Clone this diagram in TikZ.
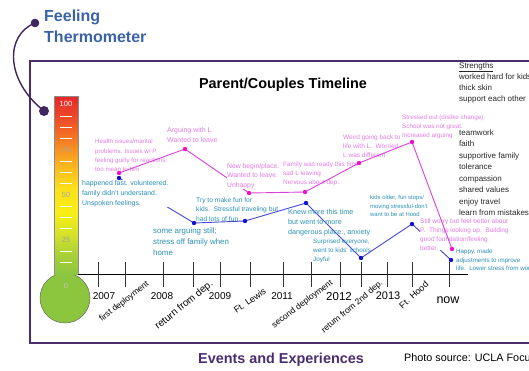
\documentclass[tikz,border=0pt]{standalone}
\usepackage{fontspec}
\setmainfont{Liberation Sans}

\definecolor{framepurple}{HTML}{4B2C6F}
\definecolor{headblue}{HTML}{3A62A7}
\definecolor{pinktext}{HTML}{E27BE2}
\definecolor{pinkline}{HTML}{DA40DA}
\definecolor{pinkdot}{HTML}{F010C8}
\definecolor{bluetext}{HTML}{2A90B5}
\definecolor{blueline}{HTML}{4545D6}
\definecolor{bluedot}{HTML}{1010D0}
\definecolor{tgreen}{HTML}{8CC63F}
\definecolor{tlime}{HTML}{A6CF38}
\definecolor{tygreen}{HTML}{D4E12A}
\definecolor{tyellow}{HTML}{F8EE14}
\definecolor{tyellowb}{HTML}{FCE11A}
\definecolor{torangey}{HTML}{F9B21F}
\definecolor{torange}{HTML}{F58A23}
\definecolor{tredor}{HTML}{EE5028}
\definecolor{tred}{HTML}{E6262A}

% tube colours, green at the bottom up to red
\pgfdeclareverticalshading{thermo}{100bp}{color(0bp)=(tgreen); color(25bp)=(tgreen);
  color(30bp)=(tlime); color(36bp)=(tygreen); color(42bp)=(tyellow); color(49bp)=(tyellowb);
  color(56bp)=(torangey); color(61bp)=(torange); color(68bp)=(tredor); color(75bp)=(tred);
  color(100bp)=(tred)}

\tikzset{
  note/.style={align=left, anchor=north west, inner sep=0pt},
  pinknote/.style={note, text=pinktext},
  bluenote/.style={note, text=bluetext},
  cover/.style={fill=white},
  pinkpath/.style={draw=pinkline, line width=0.9pt},
  bluepath/.style={draw=blueline, line width=0.9pt},
  yearlabel/.style={inner sep=0pt, font=\fontsize{10}{12}\selectfont},
  eventlabel/.style={anchor=east, inner sep=0pt},
}

\begin{document}
\begin{tikzpicture}[x=1pt, y=-1pt]
\useasboundingbox (0,0) rectangle (529,370);
\clip (0,0) rectangle (529,370);

%frame and headings
\draw[framepurple, line width=2pt] (30,61) rectangle (560,343);
\node[note, text=headblue, font=\fontsize{16}{21}\selectfont\bfseries] (feeling) at (44,9.5)
  {Feeling\\Thermometer};
\coordinate (pin) at (35,23);
\coordinate (pinfoot) at (44,111);
\draw[framepurple!85!black, line width=1.4pt] (pin) .. controls (5,35) and (5,80) .. (pinfoot);
\fill[framepurple!85!black] (pin) circle (4.3pt);
\fill[framepurple!85!black] (pinfoot) circle (5pt);
\node[font=\fontsize{14.4}{17}\selectfont\bfseries] (title) at (283,85) {Parent/Couples Timeline};
\node[text=framepurple, font=\fontsize{14.4}{17}\selectfont\bfseries] (events) at (281,360)
  {Events and Experiences};
\node[anchor=west, inner sep=0pt, font=\fontsize{10.8}{13}\selectfont] (source) at (404,358)
  {Photo source: UCLA Focus};

%thermometer
\filldraw[fill=tgreen, draw=black!60, line width=0.5pt] (65,298) circle (25pt);
\shade[shading=thermo] (54,96) rectangle (78,274);
\draw[black!45, line width=0.5pt] (54,274) -- (54,96) -- (78,96) -- (78,274);
\foreach \k in {1,2,3,5,6,7,9,10,11,13,14}
  {\draw[white, line width=1.3pt] (60,{105+11.25*\k}) -- (72,{105+11.25*\k});}
\node[text=white, font=\fontsize{7.5}{9}\selectfont] (t100) at (66,104) {100};
\foreach \v/\y in {75/150, 50/195, 25/240}
  {\node[text=black!35, font=\fontsize{7.5}{9}\selectfont] (t\v) at (66,\y) {\v};}
\node[text=white!75!black, font=\fontsize{7.5}{9}\selectfont] (t0) at (66,286) {0};

%time axis
\draw[line width=1pt] (78,274) -- (468,274);
\foreach \x in {98,125,163,193,220,250,283,311,340,361,387,412,449}
  {\draw[black!80, line width=0.8pt] (\x,262) -- (\x,287);}
\foreach \x/\yr in {104/2007, 162/2008, 220/2009, 282/2011}
  {\node[yearlabel] (y\yr) at (\x,296) {\yr};}
\node[yearlabel, font=\fontsize{11.5}{13}\selectfont] (y2012) at (339,297) {2012};
\node[yearlabel, font=\fontsize{11}{13}\selectfont] (y2013) at (388,296) {2013};
\node[yearlabel, font=\fontsize{12.5}{14}\selectfont] (now) at (448,300) {now};
\node[eventlabel, rotate=38, font=\fontsize{8.5}{10}\selectfont] (dep1) at (148,283) {first deployment};
\node[eventlabel, rotate=39, font=\fontsize{10}{12}\selectfont] (ret1) at (212,283) {return from dep.};
\node[eventlabel, rotate=35, font=\fontsize{9}{11}\selectfont] (lewis) at (265,290) {Ft. Lewis};
\node[eventlabel, rotate=37, font=\fontsize{8.5}{10}\selectfont] (dep2) at (332,282) {second deployment};
\node[eventlabel, rotate=40, font=\fontsize{8.5}{10}\selectfont] (ret2) at (382,282) {return from 2nd dep.};
\node[eventlabel, rotate=42, font=\fontsize{9}{11}\selectfont] (hood) at (427,283) {Ft. Hood};

%strengths
\node[note, text=black!85, font=\fontsize{8}{11}\selectfont] (strengths) at (459,62)
  {\underline{Strengths}\\worked hard for kids\\thick skin\\support each other};
\node[note, text=black!85, font=\fontsize{8}{11.5}\selectfont] (values) at (459,129)
  {teamwork\\faith\\supportive family\\tolerance\\compassion\\shared values\\enjoy travel\\learn from mistakes};

%feeling points, parent (pink) and child (blue)
\coordinate (p1) at (119,173);
\coordinate (p2) at (185,149);
\coordinate (p3) at (249,193);
\coordinate (p4) at (305,192);
\coordinate (p5) at (359,163);
\coordinate (p6) at (412,142);
\coordinate (p7) at (452,249);
\coordinate (b1) at (119,178);
\coordinate (b2) at (194,223);
\coordinate (b3) at (245,221);
\coordinate (b4) at (306,203);
\coordinate (b5) at (361,258);
\coordinate (b6) at (412,224);
\coordinate (b7) at (451,260);

\draw[bluepath] (b1) -- (b2) -- (b3) -- (b4) -- (b5) -- (b6) -- (b7);
\draw[pinkpath] (p2) -- (p3);

%notes
\node[pinknote, font=\fontsize{6.2}{9.3}\selectfont] (health) at (95,139.3)
  {Health issues/marital\\problems. Issues w/ P.\\feeling guilty for reactions;\\too mean to him};
\node[pinknote, font=\fontsize{7}{10}\selectfont] (arguing) at (167,127)
  {Arguing with L\\Wanted to leave};
\node[pinknote, cover, font=\fontsize{6.8}{9.8}\selectfont] (newplace) at (227,163)
  {New begin/place.\\Wanted to leave.\\Unhappy};
\node[pinknote, font=\fontsize{6.4}{8.8}\selectfont] (ready) at (283,162)
  {Family was ready this time\\sad L leaving\\Nervous about dep.};
\node[pinknote, font=\fontsize{6.5}{9}\selectfont] (weird) at (343,135)
  {Weird going back to\\life with L.\ \ Worried\\L was different};
\node[pinknote, font=\fontsize{6.3}{9}\selectfont] (stressed) at (402,115)
  {Stressed out (dislike change).\\School was not great.\\Increased arguing};
\node[pinknote, cover, font=\fontsize{6.5}{8.8}\selectfont] (stillworry) at (420,219)
  {Still worry but feel better about\\P.\ \ Things looking up.\ \ Building\\good foundation/feeling\\better.};
\node[bluenote, cover, font=\fontsize{6.9}{10}\selectfont] (happened) at (82,180)
  {happened fast. volunteered.\\family didn't understand.\\Unspoken feelings.};
\node[bluenote, font=\fontsize{6.7}{9.5}\selectfont] (funkids) at (196,197)
  {Try to make fun for\\kids.\ \ Stressful traveling but\\had lots of fun.};
\node[bluenote, font=\fontsize{7.9}{10.8}\selectfont] (stillarguing) at (153,227.5)
  {some arguing still;\\stress off family when\\home};
\node[bluenote, font=\fontsize{7.2}{9.8}\selectfont] (knewmore) at (288,209)
  {Knew more this time\\but went to more\\dangerous place., anxiety};
\node[bluenote, font=\fontsize{6.3}{9}\selectfont] (surprised) at (313,239)
  {Surprised everyone,\\went to kids' schools\\Joyful};
\node[bluenote, font=\fontsize{5.9}{8.5}\selectfont] (kidsolder) at (370,195.5)
  {kids older, fun stops/\\moving stressful-don't\\want to be at Hood};
\node[bluenote, font=\fontsize{6.2}{8.5}\selectfont] (happy) at (456,249)
  {Happy, made\\adjustments to improve\\life.\ \ Lower stress from work};

\draw[pinkpath] (p1) -- (p2);
\draw[pinkpath] (p3) -- (p4) -- (p5) -- (p6) -- (p7);
\foreach \n in {p1,p2,p3,p4,p5,p6,p7}
  {\fill[pinkdot] (\n) circle (2.2pt);}
\foreach \n in {b1,b2,b3,b4,b5,b6,b7}
  {\fill[bluedot] (\n) circle (2.2pt);}
\end{tikzpicture}
\end{document}
